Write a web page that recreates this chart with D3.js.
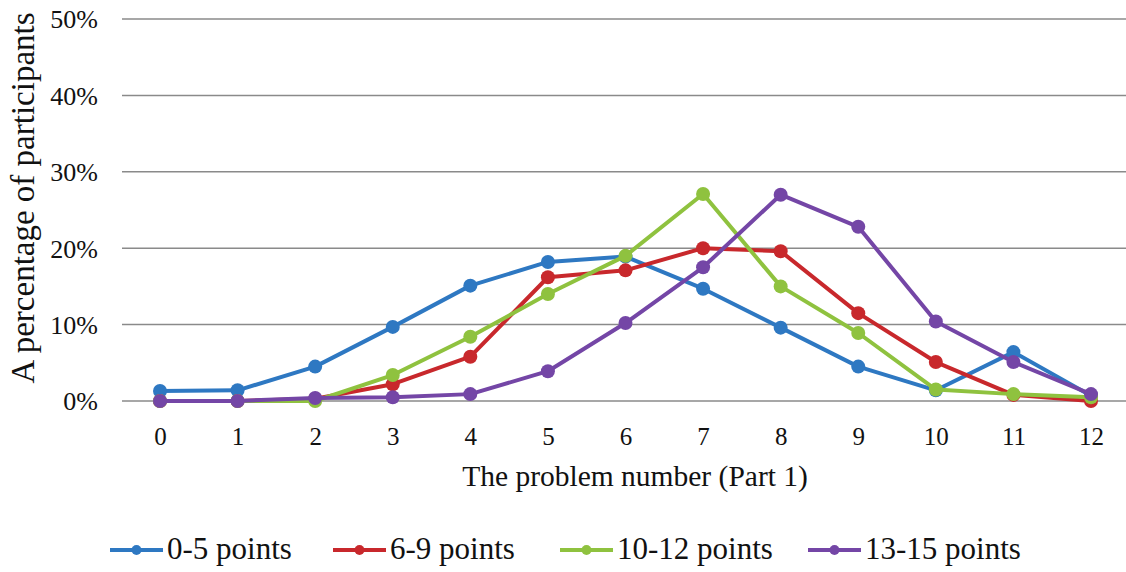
<!DOCTYPE html>
<html><head><meta charset="utf-8">
<script src="https://cdn.jsdelivr.net/npm/d3@7"></script>
<style>body{margin:0;background:#fff}svg{display:block}svg text{font-family:"Liberation Serif","Times New Roman",serif !important;fill:#111}</style>
</head><body><svg id="c" width="1126" height="572"></svg>
<script>
const problems = ["0","1","2","3","4","5","6","7","8","9","10","11","12"];
const seriesNames = ["0-5 points","6-9 points","10-12 points","13-15 points"];
const s0_5 =   [0.013,0.014,0.045,0.097,0.151,0.182,0.189,0.147,0.096,0.045,0.014,0.064,0.007];
const s6_9 =   [0.000,0.000,0.003,0.022,0.058,0.162,0.171,0.200,0.196,0.115,0.051,0.008,0.000];
const s10_12 = [0.000,0.000,0.000,0.034,0.084,0.140,0.190,0.271,0.150,0.089,0.015,0.009,0.005];
const s13_15 = [0.000,0.000,0.004,0.005,0.009,0.039,0.102,0.175,0.270,0.228,0.104,0.051,0.009];
const yTicks = [0,0.1,0.2,0.3,0.4,0.5];
const colors = ["#2e78c2","#c8282c","#8fc23f","#7446a6"];
const allSeries = [s0_5,s6_9,s10_12,s13_15];
const FONT = "'Liberation Serif', 'Times New Roman', serif";

const svg = d3.select("#c");
const x = d3.scalePoint().domain(problems).range([160,1091]);
const y = d3.scaleLinear().domain([0,0.5]).range([401,19]);

// gridlines
svg.append("g").selectAll("line").data(yTicks).join("line")
  .attr("x1",122).attr("x2",1126).attr("y1",d=>y(d)).attr("y2",d=>y(d))
  .attr("stroke","#8a8a8a").attr("stroke-width",1.5);

// y axis labels
const yAxis = d3.axisLeft(y).tickValues(yTicks).tickFormat(d3.format(".0%")).tickSize(0).tickPadding(0);
const gy = svg.append("g").attr("transform","translate(98,0)").call(yAxis);
gy.attr("font-family",FONT);
gy.select(".domain").remove();
gy.selectAll("text").style("font-family",FONT).attr("font-size",26).attr("fill","#111").attr("dy","0.34em");

// x axis labels
const xAxis = d3.axisBottom(x).tickSize(0).tickPadding(0);
const gx = svg.append("g").call(xAxis);
gx.attr("font-family",FONT);
gx.select(".domain").remove();
gx.selectAll("text").style("font-family",FONT).attr("font-size",25).attr("fill","#111").attr("y",445).attr("dy",0);

// titles
svg.append("text").style("font-family",FONT).attr("x",635).attr("y",486).attr("text-anchor","middle").attr("font-size",29.5)
  .text("The problem number (Part 1)");
svg.append("text").style("font-family",FONT).attr("transform","translate(34,198) rotate(-90)").attr("text-anchor","middle").attr("font-size",33)
  .text("A percentage of participants");

// lines
const line = d3.line().x((d,i)=>x(problems[i])).y(d=>y(d));
allSeries.forEach((vals,k)=>{
  const g = svg.append("g");
  g.append("path").datum(vals).attr("d",line).attr("fill","none").attr("stroke",colors[k]).attr("stroke-width",4).attr("stroke-linejoin","round");
  g.selectAll("circle").data(vals).join("circle").attr("cx",(d,i)=>x(problems[i])).attr("cy",d=>y(d)).attr("r",7).attr("fill",colors[k]);
});

// legend
const legX = [110,333,560,808];
const leg = svg.append("g");
seriesNames.forEach((n,k)=>{
  const g = leg.append("g").attr("transform",`translate(${legX[k]},550)`);
  g.append("line").attr("x1",0).attr("x2",53).attr("stroke",colors[k]).attr("stroke-width",4);
  g.append("circle").attr("cx",26.5).attr("r",5).attr("fill",colors[k]);
  g.append("text").style("font-family",FONT).attr("x",57).attr("y",9).attr("font-size",31).text(n);
});
</script></body></html>
